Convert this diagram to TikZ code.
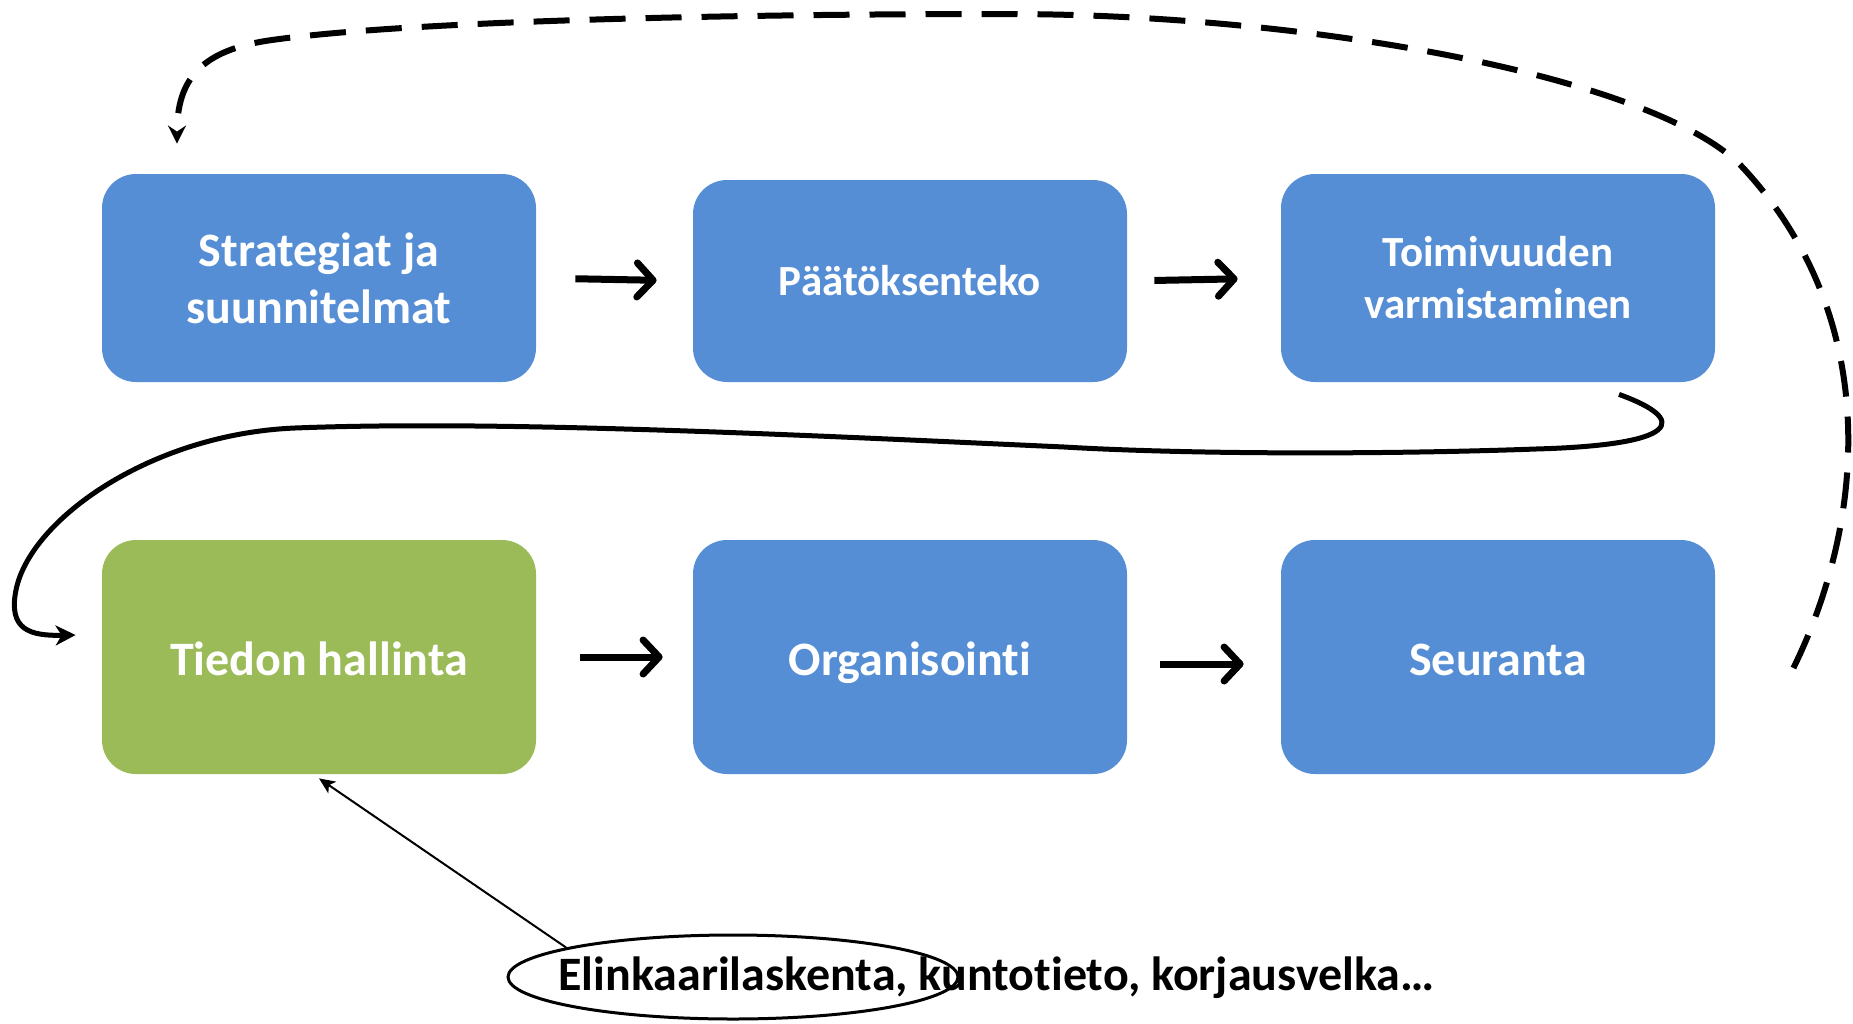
\documentclass[tikz,border=0pt]{standalone}
\usepackage{fontspec}
\setmainfont{Carlito}[Ligatures={NoCommon}]
\usetikzlibrary{arrows.meta,shapes.geometric}
\definecolor{boxblue}{RGB}{85,142,213}
\definecolor{boxgreen}{RGB}{155,187,89}
\begin{document}
\begin{tikzpicture}[x=0.5pt,y=-0.5pt,
  stepbox/.style={rounded corners=17pt, fill=boxblue, draw=none, text=white,
    font=\fontsize{24}{28.5}\selectfont\bfseries, align=center,
    minimum width=217pt, inner sep=0pt},
  smalltext/.style={font=\fontsize{21.5}{26}\selectfont\bfseries},
  oneline/.style={text height=18pt, text depth=0pt},
  bigarrow/.style={line width=3.5pt, -{Straight Barb[length=8pt,width=17pt,round]}},
  loopline/.style={line width=2.5pt, -{Stealth[length=10pt,width=10pt,inset=3pt]}},
  dashline/.style={line width=3pt, dash pattern=on 18pt off 10pt, -{Stealth[length=9pt,width=9pt,inset=3pt]}},
  thinarrow/.style={line width=1pt, -{Stealth[length=8pt,width=7pt,inset=2pt]}}]
\useasboundingbox (0,0) rectangle (1853,1023);

\node[stepbox, minimum height=104pt] (b1) at (319,278) {Strategiat ja\\suunnitelmat};
\node[stepbox, smalltext, oneline, text height=14.4pt, minimum height=101pt] (b2) at (910,281) {Päätöksenteko};
\node[stepbox, smalltext, minimum height=104pt] (b3) at (1498,278) {Toimivuuden\\varmistaminen};
\node[stepbox, oneline, minimum height=117pt, fill=boxgreen] (b4) at (319,657) {Tiedon hallinta};
\node[stepbox, oneline, minimum height=117pt] (b5) at (910,657) {Organisointi};
\node[stepbox, oneline, minimum height=117pt] (b6) at (1498,657) {Seuranta};

\draw[bigarrow, shorten <=19.5pt, shorten >=18pt] (b1.east) -- (b2.west);
\draw[bigarrow, shorten <=13.5pt, shorten >=21.5pt] (b2.east) -- (b3.west);
\draw[bigarrow, shorten <=22pt, shorten >=15pt] (b4.east) -- (b5.west);
\draw[bigarrow, shorten <=16.5pt, shorten >=18.5pt] ([yshift=-3.5pt]b5.east) -- ([yshift=-3.5pt]b6.west);

\coordinate (d0) at ([shift={(78,11)}]b6.east);
\coordinate (d1) at ([shift={(-142,-30)}]b1.north);
\draw[dashline] (d0) .. controls (1866,520) and (1882,320) .. (1745,170)
  .. controls (1665,80) and (1320,14) .. (1005,14)
  .. controls (700,14) and (400,22) .. (272,40)
  .. controls (200,50) and (177,80) .. (d1);

\coordinate (s0) at ([shift={(121,12)}]b3.south);
\coordinate (s1) at ([shift={(-26,-22)}]b4.west);
\draw[loopline] (s0) .. controls (1690,420) and (1680,445) .. (1536,449)
  .. controls (1400,454) and (1200,455) .. (1064,447)
  .. controls (800,435) and (500,420) .. (295,428)
  .. controls (150,434) and (30,520) .. (16,590)
  .. controls (8,630) and (30,636) .. (s1);

\node[ellipse, draw, line width=1.5pt, minimum width=225pt, minimum height=42pt, inner sep=0pt] (el) at (733,977) {};
\node[font=\fontsize{24}{28}\selectfont\bfseries, inner sep=0pt, anchor=base west] (lbl) at (558,990) {Elinkaarilaskenta, kuntotieto, korjausvelka…};
\draw[thinarrow] (el.170) -- ([yshift=-2pt]b4.south);
\end{tikzpicture}
\end{document}
